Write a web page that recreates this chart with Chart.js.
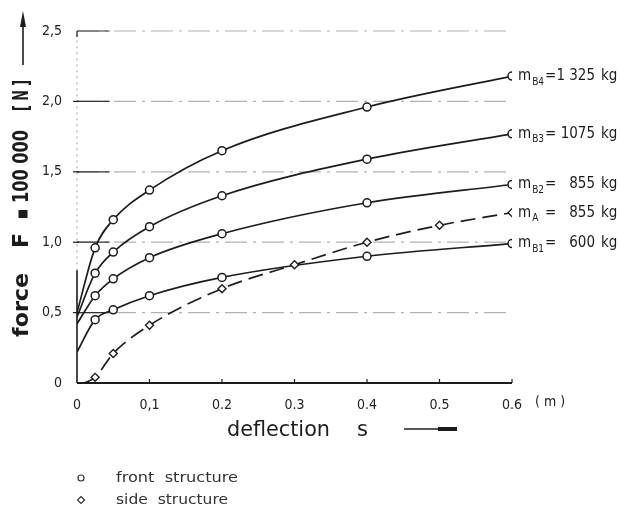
<!DOCTYPE html>
<html>
<head>
<meta charset="utf-8">
<script src="https://cdn.jsdelivr.net/npm/chart.js@4.4.1/dist/chart.umd.min.js"></script>
<style>
  html, body { margin: 0; padding: 0; background: #fff; }
  #wrap { width: 620px; height: 509px; }
</style>
</head>
<body>
<div id="wrap"><canvas id="myChart" width="620" height="509"></canvas></div>
<script>
// deflection s [m] where the front structure values were measured
const frontDeflection = [0, 0.025, 0.05, 0.1, 0.2, 0.4, 0.6];
// force F / 100 000 [N]
const forceB4 = [0.50, 0.96, 1.16, 1.37, 1.65, 1.96, 2.18];
const forceB3 = [0.47, 0.78, 0.93, 1.11, 1.33, 1.59, 1.77];
const forceB2 = [0.42, 0.62, 0.74, 0.89, 1.06, 1.28, 1.41];
const forceB1 = [0.22, 0.45, 0.52, 0.62, 0.75, 0.90, 0.99];
// side structure
const sideDeflection = [0.01, 0.025, 0.05, 0.1, 0.2, 0.3, 0.4, 0.5, 0.6];
const forceA = [0, 0.04, 0.21, 0.41, 0.67, 0.84, 1.00, 1.12, 1.21];

const seriesIndex = ['B4', 'B3', 'B2', 'A', 'B1'];
const seriesMass = ['1 325', '1075', '855', '855', '600'];

const xTicks = [0, 0.1, 0.2, 0.3, 0.4, 0.5, 0.6];
const xTickLabels = ['0', '0,1', '0.2', '0.3', '0.4', '0.5', '0.6'];
const yTicks = [0, 0.5, 1.0, 1.5, 2.0, 2.5];
const yTickLabels = ['0', '0,5', '1,0', '1,5', '2,0', '2,5'];

const FONT = '"DejaVu Sans Condensed", "DejaVu Sans", sans-serif';
const INK = '#1c1c1c';

function toPoints(xs, ys) {
  return xs.map((x, i) => ({ x: x, y: ys[i] }));
}

// draw text squeezed or stretched to a given run length
function fitText(ctx, text, x, y, len) {
  const w = ctx.measureText(text).width;
  ctx.save();
  ctx.translate(x, y);
  ctx.scale(len / w, 1);
  ctx.fillText(text, 0, 0);
  ctx.restore();
}

function frontSet(label, ys) {
  return {
    label: label,
    data: toPoints(frontDeflection, ys),
    borderColor: INK,
    borderWidth: 1.7,
    pointStyle: 'circle',
    pointRadius: frontDeflection.map(x => x === 0 ? 0 : 4),
    pointBackgroundColor: '#fff',
    pointBorderColor: INK,
    pointBorderWidth: 1.5,
    cubicInterpolationMode: 'monotone'
  };
}

const datasets = [
  frontSet('B4', forceB4),
  frontSet('B3', forceB3),
  frontSet('B2', forceB2),
  {
    label: 'A',
    data: toPoints(sideDeflection, forceA),
    borderColor: INK,
    borderWidth: 1.7,
    borderDash: [15, 7],
    pointStyle: 'rectRot',
    pointRadius: sideDeflection.map((x, i) => i === 0 ? 0 : 4),
    pointBackgroundColor: '#fff',
    pointBorderColor: INK,
    pointBorderWidth: 1.4,
    cubicInterpolationMode: 'monotone'
  },
  frontSet('B1', forceB1)
];

// axes, grid, titles, curve labels and the marker key
const decor = {
  id: 'decor',
  beforeDatasetsDraw(chart) {
    const ctx = chart.ctx;
    const xs = chart.scales.x, ys = chart.scales.y;
    const x0 = xs.getPixelForValue(0), x6 = xs.getPixelForValue(0.6);
    const y0 = ys.getPixelForValue(0);
    ctx.save();
    // broken horizontal grid lines
    ctx.strokeStyle = 'rgba(60,60,60,0.4)';
    ctx.lineWidth = 1.2;
    ctx.setLineDash([22, 6, 3, 6]);
    yTicks.forEach(v => {
      if (v === 0) return;
      const y = ys.getPixelForValue(v);
      ctx.beginPath(); ctx.moveTo(x0, y); ctx.lineTo(x6, y); ctx.stroke();
    });
    // the grid segments next to the axis are darker
    ctx.setLineDash([]);
    ctx.strokeStyle = '#333';
    [0.5, 1.0, 1.5, 2.0, 2.5].forEach(v => {
      const y = ys.getPixelForValue(v);
      ctx.beginPath(); ctx.moveTo(x0, y); ctx.lineTo(xs.getPixelForValue(0.045), y); ctx.stroke();
    });
    // y axis: solid near the origin, dotted above
    ctx.strokeStyle = 'rgba(60,60,60,0.5)';
    ctx.lineWidth = 1;
    ctx.setLineDash([2, 4]);
    ctx.beginPath(); ctx.moveTo(x0, ys.getPixelForValue(0.8)); ctx.lineTo(x0, ys.getPixelForValue(2.5)); ctx.stroke();
    ctx.setLineDash([]);
    ctx.strokeStyle = INK;
    ctx.lineWidth = 1.6;
    ctx.beginPath(); ctx.moveTo(x0, y0); ctx.lineTo(x0, ys.getPixelForValue(0.8)); ctx.stroke();
    // corner at 2,5
    const yTop = ys.getPixelForValue(2.5);
    ctx.lineWidth = 1.2;
    ctx.beginPath(); ctx.moveTo(x0, yTop + 6); ctx.lineTo(x0, yTop); ctx.stroke();
    // y tick crosses
    [0.5, 1.0, 1.5, 2.0].forEach(v => {
      const y = ys.getPixelForValue(v);
      ctx.beginPath(); ctx.moveTo(x0 - 4, y); ctx.lineTo(x0 + 2, y); ctx.stroke();
    });
    // x axis with inward ticks
    ctx.lineWidth = 1.8;
    ctx.beginPath(); ctx.moveTo(x0, y0); ctx.lineTo(x6, y0); ctx.stroke();
    ctx.lineWidth = 1.2;
    xTicks.forEach(v => {
      if (v === 0) return;
      const x = xs.getPixelForValue(v);
      ctx.beginPath(); ctx.moveTo(x, y0); ctx.lineTo(x, y0 - 4); ctx.stroke();
    });
    ctx.restore();
  },
  afterDraw(chart) {
    const ctx = chart.ctx;
    const xs = chart.scales.x, ys = chart.scales.y;
    ctx.save();
    ctx.fillStyle = INK;
    ctx.strokeStyle = INK;

    // unit after the last x tick
    ctx.font = '14px ' + FONT;
    ctx.textBaseline = 'middle';
    ctx.textAlign = 'left';
    ctx.fillText('( m )', 535, 402);

    // y axis title, rotated
    ctx.save();
    ctx.translate(23, 0);
    ctx.rotate(-Math.PI / 2);
    ctx.font = 'bold 21px ' + FONT;
    ctx.textBaseline = 'middle';
    ctx.textAlign = 'left';
    fitText(ctx, 'force', -337, 0, 64);
    fitText(ctx, 'F', -248, 0, 15);
    ctx.fillRect(-218, -4.5, 8, 9);
    fitText(ctx, '100 000', -203, 0, 73);
    fitText(ctx, '[ N ]', -111, 0, 31);
    ctx.restore();
    // arrow up
    ctx.lineWidth = 1.6;
    ctx.beginPath(); ctx.moveTo(23, 65); ctx.lineTo(23, 22); ctx.stroke();
    ctx.beginPath();
    ctx.moveTo(23, 11); ctx.lineTo(26, 27); ctx.lineTo(20, 27); ctx.closePath(); ctx.fill();

    // x axis title with arrow
    ctx.font = '22px ' + FONT;
    ctx.textBaseline = 'middle';
    ctx.textAlign = 'left';
    fitText(ctx, 'deflection', 227, 430, 103);
    fitText(ctx, 's', 357, 430, 11);
    ctx.lineWidth = 1.6;
    ctx.beginPath(); ctx.moveTo(404, 429); ctx.lineTo(442, 429); ctx.stroke();
    ctx.lineWidth = 4;
    ctx.beginPath(); ctx.moveTo(438, 429); ctx.lineTo(457, 429); ctx.stroke();

    // curve labels at the line ends
    chart.data.datasets.forEach((ds, i) => {
      const last = ds.data[ds.data.length - 1];
      const y = ys.getPixelForValue(last.y);
      let x = xs.getPixelForValue(last.x) + 6;
      ctx.textAlign = 'left';
      ctx.textBaseline = 'middle';
      ctx.font = '15px ' + FONT;
      ctx.fillText('m', x, y);
      x += ctx.measureText('m').width + 1;
      ctx.font = '10px ' + FONT;
      ctx.fillText(seriesIndex[i], x, y + 6);
      ctx.font = '15px ' + FONT;
      ctx.fillText('=', 545, y);
      ctx.textAlign = 'right';
      ctx.fillText(seriesMass[i], 595, y);
      ctx.textAlign = 'left';
      ctx.fillText('kg', 601, y);
    });

    // marker key
    ctx.font = '14px ' + FONT;
    ctx.fillStyle = '#333';
    ctx.strokeStyle = '#333';
    ctx.lineWidth = 1.2;
    ctx.textAlign = 'left';
    ctx.textBaseline = 'middle';
    ctx.beginPath(); ctx.arc(81, 478, 3, 0, Math.PI * 2); ctx.stroke();
    fitText(ctx, 'front  structure', 116, 478, 122);
    ctx.beginPath();
    ctx.moveTo(81, 496.5); ctx.lineTo(84.5, 500); ctx.lineTo(81, 503.5); ctx.lineTo(77.5, 500); ctx.closePath(); ctx.stroke();
    fitText(ctx, 'side  structure', 116, 500, 112);
    ctx.restore();
  }
};

new Chart(document.getElementById('myChart').getContext('2d'), {
  type: 'line',
  data: { datasets: datasets },
  options: {
    responsive: false,
    animation: false,
    layout: { padding: { left: 0, right: 108, top: 31, bottom: 0 } },
    plugins: {
      legend: { display: false },
      tooltip: { enabled: false }
    },
    scales: {
      x: {
        type: 'linear',
        min: 0,
        max: 0.6,
        afterFit: s => { s.height = 126; },
        afterBuildTicks: s => { s.ticks = xTicks.map(v => ({ value: v })); },
        grid: { display: false },
        border: { display: false },
        ticks: {
          padding: 6,
          color: '#222',
          font: { family: FONT, size: 14 },
          maxRotation: 0,
          callback: (v, i) => xTickLabels[i]
        }
      },
      y: {
        min: 0,
        max: 2.5,
        afterFit: s => { s.width = 77; },
        afterBuildTicks: s => { s.ticks = yTicks.map(v => ({ value: v })); },
        grid: { display: false },
        border: { display: false },
        ticks: {
          padding: 7,
          color: '#222',
          font: { family: FONT, size: 14 },
          callback: (v, i) => yTickLabels[i]
        }
      }
    }
  },
  plugins: [decor]
});
</script>
</body>
</html>
